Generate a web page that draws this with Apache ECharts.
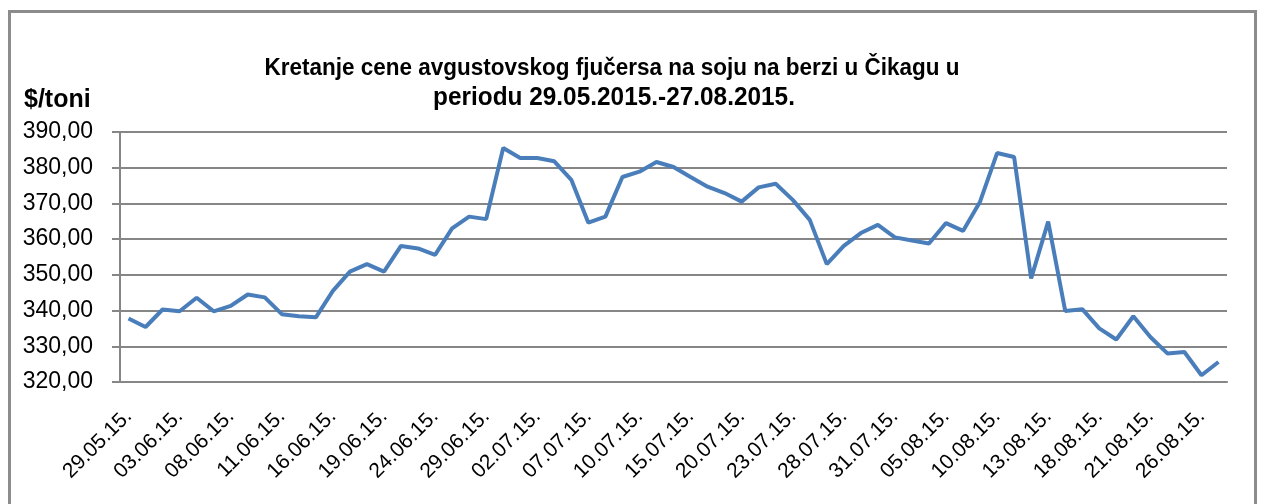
<!DOCTYPE html>
<html>
<head>
    <meta charset="utf-8">
    <script src="https://cdn.jsdelivr.net/npm/echarts@6/dist/echarts.min.js"></script>
    <style>
        html, body { margin: 0; padding: 0; background: #fff; }
    </style>
</head>
<body>
    <div id="main" style="width: 1262px;height:504px;"></div>
    <script type="text/javascript">
        // trading days 29.05.2015 - 27.08.2015
        var dates = [
            '29.05.15.', '01.06.15.', '02.06.15.', '03.06.15.', '04.06.15.', '05.06.15.',
            '08.06.15.', '09.06.15.', '10.06.15.', '11.06.15.', '12.06.15.',
            '15.06.15.', '16.06.15.', '17.06.15.', '18.06.15.', '19.06.15.',
            '22.06.15.', '23.06.15.', '24.06.15.', '25.06.15.', '26.06.15.',
            '29.06.15.', '30.06.15.', '01.07.15.', '02.07.15.', '03.07.15.',
            '06.07.15.', '07.07.15.', '08.07.15.', '09.07.15.', '10.07.15.',
            '13.07.15.', '14.07.15.', '15.07.15.', '16.07.15.', '17.07.15.',
            '20.07.15.', '21.07.15.', '22.07.15.', '23.07.15.', '24.07.15.',
            '27.07.15.', '28.07.15.', '29.07.15.', '30.07.15.', '31.07.15.',
            '03.08.15.', '04.08.15.', '05.08.15.', '06.08.15.', '07.08.15.',
            '10.08.15.', '11.08.15.', '12.08.15.', '13.08.15.', '14.08.15.',
            '17.08.15.', '18.08.15.', '19.08.15.', '20.08.15.', '21.08.15.',
            '24.08.15.', '25.08.15.', '26.08.15.', '27.08.15.'
        ];

        // $/toni
        var prices = [
            337.8, 335.4, 340.3, 339.8, 343.6, 339.8,
            341.3, 344.5, 343.7, 339.0, 338.4,
            338.1, 345.5, 350.9, 353.0, 350.9,
            358.1, 357.4, 355.6, 363.0, 366.3,
            365.6, 385.5, 382.7, 382.7, 381.8,
            376.6, 364.6, 366.3, 377.4, 378.9,
            381.6, 380.2, 377.4, 374.7, 372.9,
            370.5, 374.5, 375.5, 371.0, 365.4,
            353.0, 358.1, 361.7, 364.0, 360.5,
            359.6, 358.8, 364.5, 362.3, 370.5,
            384.1, 383.0, 349.0, 364.9, 339.9,
            340.4, 335.0, 331.9, 338.4, 332.6,
            328.0, 328.4, 321.9, 325.6
        ];

        var titleLines = [
            'Kretanje cene avgustovskog fjučersa na soju na berzi u Čikagu u',
            'periodu 29.05.2015.-27.08.2015.'
        ];
        var unitLabel = '$/toni';

        var fontName = 'Liberation Sans, Arial, sans-serif';
        var gray = '#868686';

        var myChart = echarts.init(document.getElementById('main'));

        var option = {
            backgroundColor: '#fff',
            animation: false,
            grid: {
                left: 120,
                right: 35,
                top: 132,
                bottom: 122
            },
            graphic: [
                {
                    type: 'rect',
                    shape: { x: 9.5, y: 11.5, width: 1246, height: 600 },
                    style: { fill: 'none', stroke: '#8c8c8c', lineWidth: 3 }
                },
                {
                    type: 'text',
                    x: 612, y: 68, scaleY: 1.1,
                    style: {
                        text: titleLines[0],
                        textAlign: 'center', textVerticalAlign: 'middle',
                        font: 'bold 22.5px ' + fontName, fill: '#000'
                    }
                },
                {
                    type: 'text',
                    x: 614, y: 98, scaleX: 1.06, scaleY: 1.1,
                    style: {
                        text: titleLines[1],
                        textAlign: 'center', textVerticalAlign: 'middle',
                        font: 'bold 23px ' + fontName, fill: '#000'
                    }
                },
                {
                    type: 'text',
                    x: 24, y: 100, scaleY: 1.05,
                    style: {
                        text: unitLabel,
                        textAlign: 'left', textVerticalAlign: 'middle',
                        font: 'bold 25px ' + fontName, fill: '#000'
                    }
                }
            ],
            xAxis: {
                type: 'category',
                data: dates,
                boundaryGap: true,
                axisLine: { show: true, lineStyle: { color: gray, width: 2 } },
                axisTick: { show: false },
                axisLabel: {
                    interval: 2,
                    rotate: 45,
                    margin: 31,
                    fontSize: 21,
                    fontFamily: fontName,
                    color: '#000'
                },
                splitLine: { show: false }
            },
            yAxis: {
                type: 'value',
                min: 320,
                max: 390,
                interval: 10,
                axisLine: { show: true, lineStyle: { color: gray, width: 2 } },
                axisTick: { show: true, length: 8, lineStyle: { color: gray, width: 2 } },
                axisLabel: {
                    margin: 27,
                    fontSize: 23,
                    fontFamily: fontName,
                    color: '#000',
                    formatter: function (v) {
                        return v.toFixed(2).replace('.', ',');
                    }
                },
                splitLine: { show: true, lineStyle: { color: gray, width: 2 } }
            },
            series: [
                {
                    type: 'line',
                    data: prices,
                    symbol: 'none',
                    smooth: false,
                    lineStyle: { color: '#4a7ebb', width: 4 }
                }
            ]
        };
        myChart.setOption(option);
    </script>
</body>
</html>
